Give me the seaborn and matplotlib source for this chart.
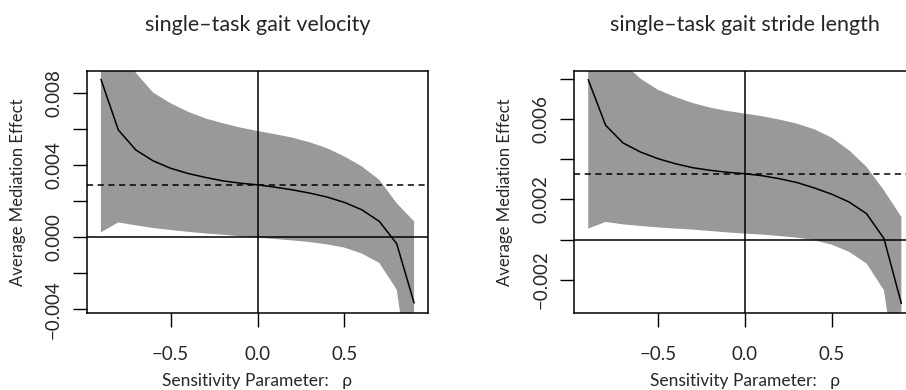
import numpy as np
import pandas as pd
import matplotlib
matplotlib.use("Agg")
import matplotlib.pyplot as plt
import seaborn as sns

# ---- data ----
rho = [-0.9, -0.8, -0.7, -0.6, -0.5, -0.4, -0.3, -0.2, -0.1, 0.0,
       0.1, 0.2, 0.3, 0.4, 0.5, 0.6, 0.7, 0.8, 0.9]

vel_est = [0.00878, 0.00597, 0.00486, 0.00425, 0.00384, 0.00355, 0.00333, 0.00314, 0.00301, 0.00292,
           0.00279, 0.00264, 0.00246, 0.00224, 0.00194, 0.00153, 0.00089, -0.00035, -0.00364]
vel_upper = [0.0175, 0.0115, 0.00915, 0.00804, 0.00745, 0.00698, 0.00661, 0.00634, 0.00610, 0.00591,
             0.00573, 0.00554, 0.00528, 0.00495, 0.00449, 0.00394, 0.00320, 0.00190, 0.00089]
vel_lower = [0.00028, 0.00083, 0.00067, 0.00052, 0.00041, 0.00031, 0.00022, 0.00015, 0.00006, -0.00002,
             -0.00009, -0.00017, -0.00026, -0.00039, -0.00057, -0.00090, -0.00142, -0.00290, -0.00950]

str_est = [0.00796, 0.00569, 0.00481, 0.00436, 0.00403, 0.00378, 0.00358, 0.00345, 0.00335, 0.00328,
           0.00318, 0.00303, 0.00284, 0.00257, 0.00226, 0.00187, 0.00129, 0.00005, -0.00318]
str_upper = [0.0165, 0.0105, 0.00880, 0.00801, 0.00746, 0.00710, 0.00680, 0.00657, 0.00640, 0.00627,
             0.00614, 0.00597, 0.00577, 0.00549, 0.00507, 0.00444, 0.00362, 0.00245, 0.00113]
str_lower = [0.00055, 0.00088, 0.00076, 0.00068, 0.00061, 0.00055, 0.00050, 0.00043, 0.00036, 0.00030,
             0.00025, 0.00018, 0.00010, -0.00003, -0.00025, -0.00061, -0.00119, -0.00252, -0.00850]

titles = ["single\u2013task gait velocity", "single\u2013task gait stride length"]
xlabel = "Sensitivity Parameter:   \u03c1"
ylabel = "Average Mediation Effect"
xticks = [-0.5, 0.0, 0.5]
xticklabels = ["\u22120.5", "0.0", "0.5"]
vel_yticks = [0.008, 0.006, 0.004, 0.002, 0.0, -0.002, -0.004]
vel_yticklabels = ["0.008", "", "0.004", "", "0.000", "", "\u22120.004"]
str_yticks = [0.008, 0.006, 0.004, 0.002, 0.0, -0.002]
str_yticklabels = ["", "0.006", "", "0.002", "", "\u22120.002"]

sns.set_style("ticks")
plt.rcParams["font.family"] = ["Lato", "DejaVu Sans"]

W, H = 906, 390
fig = plt.figure(figsize=(W / 100, H / 100), dpi=100)

panels = [
    dict(est=vel_est, up=vel_upper, lo=vel_lower, title=titles[0],
         yt=vel_yticks, ytl=vel_yticklabels, ylim=(-0.0042, 0.00924), left=87),
    dict(est=str_est, up=str_upper, lo=str_lower, title=titles[1],
         yt=str_yticks, ytl=str_yticklabels, ylim=(-0.00365, 0.00839), left=574.3),
]

for p in panels:
    ax = fig.add_axes([p["left"] / W, (H - 313) / H, 341 / W, 242 / H])
    df = pd.DataFrame({"rho": rho, "est": p["est"], "lo": p["lo"], "up": p["up"]})
    ax.fill_between(df["rho"], df["lo"], df["up"], color="#999999", lw=0, zorder=1)
    sns.lineplot(data=df, x="rho", y="est", color="black", lw=1.1, ax=ax, zorder=3)
    ax.axhline(0, color="black", lw=1.1, zorder=2)
    ax.axvline(0, color="black", lw=1.1, zorder=2)
    ax.axhline(df.loc[df["rho"] == 0.0, "est"].iloc[0], color="black", lw=1.1,
               ls=(0, (4, 3)), zorder=2)
    ax.set_xlim(-0.98, 0.98)
    ax.set_ylim(*p["ylim"])
    ax.set_xticks(xticks)
    ax.set_xticklabels(xticklabels, fontsize=13.5)
    ax.set_yticks(p["yt"])
    ax.set_yticklabels(p["ytl"], fontsize=13.5, rotation=90, va="center")
    ax.tick_params(direction="out", length=10, width=1, color="black",
                   bottom=True, left=True, top=False, right=False)
    ax.tick_params(axis="x", pad=14)
    ax.tick_params(axis="y", pad=8)
    for s in ax.spines.values():
        s.set_visible(True)
        s.set_color("black")
        s.set_linewidth(1.1)
    ax.set_xlabel(xlabel, fontsize=12.5, labelpad=7)
    ax.set_ylabel(ylabel, fontsize=12, labelpad=14)
    ax.set_title(p["title"], fontsize=15.5, pad=29)

fig.savefig("out.png", dpi=100)
